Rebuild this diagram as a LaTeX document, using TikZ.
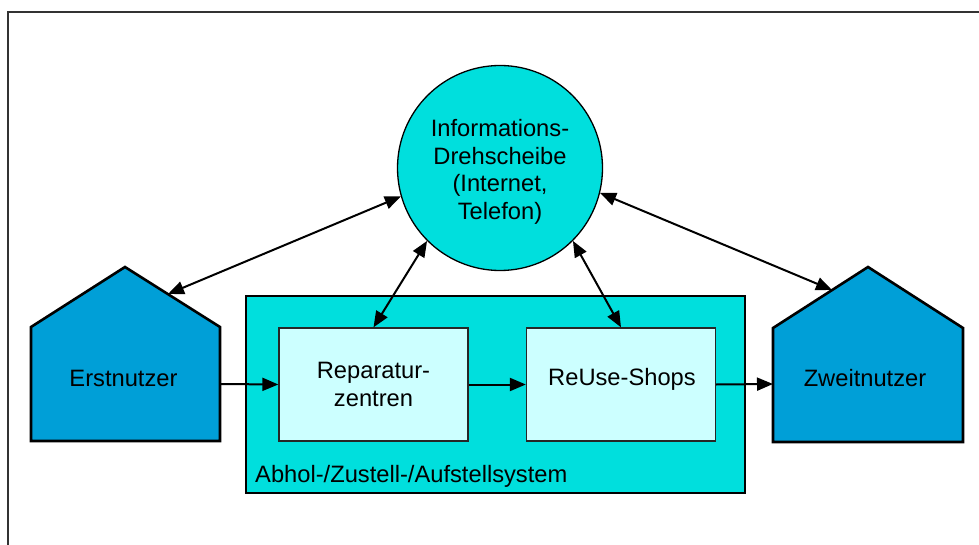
\documentclass[tikz,border=0pt]{standalone}
\usepackage{fontspec}
\setmainfont{Liberation Sans}
\usetikzlibrary{arrows.meta}

\definecolor{houseblue}{HTML}{009FD7}
\definecolor{hubcyan}{HTML}{00DFDD}
\definecolor{boxpale}{HTML}{CCFFFF}
\definecolor{framegray}{HTML}{333333}

\tikzset{
  house/.style={draw=black, line width=2.6pt, fill=houseblue, line join=miter},
  hub/.style={circle, draw=black, line width=1.3pt, fill=hubcyan, minimum size=205pt,
              inner sep=0pt},
  system/.style={draw=black, line width=2.6pt, fill=hubcyan},
  stage/.style={draw=black!85, line width=1.3pt, fill=boxpale, minimum width=189pt,
                minimum height=113pt, inner sep=0pt, align=center},
  label/.style={inner sep=0pt, align=center},
  tip/.style={Triangle[length=16pt,width=13pt]},
  flow/.style={line width=2pt, -{Triangle[length=16pt,width=13pt]}},
  link/.style={line width=2pt, {Triangle[length=16pt,width=13pt]}-{Triangle[length=16pt,width=13pt]}}
}

\begin{document}
\begin{tikzpicture}[x=1pt, y=-1pt, font=\fontsize{23.7}{27.5}\selectfont]
  \useasboundingbox (0,0) rectangle (979,545);

  % outer frame (open to the right and bottom)
  \draw[framegray, line width=1.5pt] (8,545) -- (8,12) -- (979,12);

  % pick-up / delivery / installation system
  \draw[system] (246,296) rectangle (745,493);
  \node[label, anchor=base west] (sys) at (255,482) {Abhol-/Zustell-/Aufstellsystem};

  % stages inside the system
  \node[stage] (rep) at (373.5,384.5) {Reparatur-\\zentren};
  \node[stage] (shop) at (621,384.5) {};
  \node[label] (shoptxt) at (622,379) {ReUse-Shops};

  % information hub
  \node[hub] (hubc) at (500,168) {};
  \node[label] (hubtxt) at (500,172) {Informations-\\Drehscheibe\\(Internet,\\Telefon)};

  % first user house
  \draw[house] (31,441) -- (31,327) -- (125,267) -- (220,327) -- (220,441) -- cycle;
  \node[label] (erst) at (123.5,378.5) {Erstnutzer};
  \coordinate (erstE) at (220,384);
  \coordinate (erstRoof) at (168,294);

  % second user house
  \draw[house] (773,442) -- (773,328) -- (868,267) -- (963,328) -- (963,442) -- cycle;
  \node[label] (zweit) at (865,378.5) {Zweitnutzer};
  \coordinate (zweitW) at (773,384);
  \coordinate (zweitRoof) at (832,290);

  % material flow
  \draw[flow] (erstE) -- (rep.west);
  \draw[flow] (rep.east) -- (shop.west);
  \draw[flow] (shop.east |- rep.east) -- (zweitW);

  % information links
  \draw[link] (erstRoof) -- (hubc.196);
  \draw[link] (rep.north) -- (hubc.225);
  \draw[link] (shop.north) -- (hubc.315);
  \draw[link] (zweitRoof) -- (hubc.346);
\end{tikzpicture}
\end{document}
